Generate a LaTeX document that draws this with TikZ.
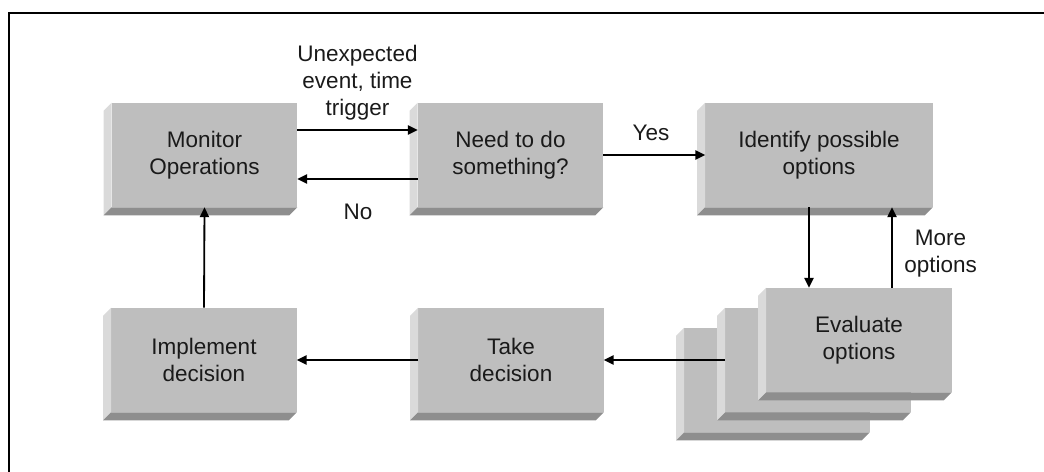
\documentclass[tikz,border=0pt]{standalone}
\usepackage{fontspec}
\setmainfont{Liberation Sans}
\usepackage{tikz}
\usetikzlibrary{arrows.meta,positioning,calc}
\definecolor{slabface}{HTML}{BEBEBE}
\definecolor{slableft}{HTML}{DADADA}
\definecolor{slabbottom}{HTML}{8E8E8E}
\definecolor{inkdark}{HTML}{1A1A1A}

% left and bottom faces of a slab
\newcommand{\slabsides}[1]{%
  \fill[slableft] (#1.north west) -- ++(-8,8) -- ([shift={(-8,8)}]#1.south west) -- (#1.south west) -- cycle;
  \fill[slabbottom] (#1.south west) -- ++(-8,8) -- ([shift={(-8,8)}]#1.south east) -- (#1.south east) -- cycle;
}

\begin{document}
\begin{tikzpicture}[x=0.025cm,y=-0.025cm]
  % Styles
  \tikzset{
    slab/.style={fill=slabface, align=center, text=inkdark, inner sep=0pt,
      minimum width=4.625cm, minimum height=2.6cm, font=\fontsize{16}{19.2}\selectfont},
    lbl/.style={align=center, text=inkdark, inner sep=0pt, font=\fontsize{16}{19.2}\selectfont},
    line/.style={-{Triangle[length=7pt,width=6.5pt]}, line width=1.3pt, draw=black},
  }
  \useasboundingbox (0,0) rectangle (1044,472);
  \clip (0,0) rectangle (1044,472);

  % Frame
  \draw[line width=1.9pt] (9,480) -- (9,13) -- (1050,13);

  % Row 1
  \node[slab] (monitor) at (204.5,155) {Monitor\\Operations};
  \slabsides{monitor}
  \node[slab] (need) at (510.5,155) {Need to do\\something?};
  \slabsides{need}
  \node[slab, minimum width=5.675cm] (identify) at (819,155) {Identify possible\\options};
  \slabsides{identify}

  % Row 2
  \node[slab] (implement) at (204,360) {Implement\\decision};
  \slabsides{implement}
  \node[slab] (take) at (511,360) {Take\\decision};
  \slabsides{take}

  % Stack of evaluations
  \node[slab] (evalback) at (777,380) {};
  \slabsides{evalback}
  \node[slab] (evalmid) at (818,360) {};
  \slabsides{evalmid}
  \node[slab] (evaluate) at (859,340) {Evaluate\\options};
  \slabsides{evaluate}

  % Edges
  \draw[line] ([yshift=0.625cm]monitor.east) -- ([yshift=0.625cm]need.west);
  \draw[line] ([yshift=-0.6cm]need.west) -- ([yshift=-0.6cm]monitor.east);
  \draw[line] (need.east) -- (identify.west);
  \draw[line] ([xshift=-1.25cm]evaluate.north |- identify.south) -- ([xshift=-1.25cm]evaluate.north);
  \draw[line] ([xshift=0.825cm]evaluate.north) -- ([xshift=0.825cm]evaluate.north |- identify.south);
  \draw[line] (evalmid.west) -- (take.east);
  \draw[line] (take.west) -- (implement.east);
  \draw[line] (implement.north) -- (monitor.south);

  % Labels
  \node[lbl] (trigger) at (357.5,83) {Unexpected\\event, time\\trigger};
  \node[lbl] (no) at (358,212) {No};
  \node[lbl] (yes) at (651,133) {Yes};
  \node[lbl, anchor=west] (more) at (904,253.5) {More\\options};
\end{tikzpicture}
\end{document}
